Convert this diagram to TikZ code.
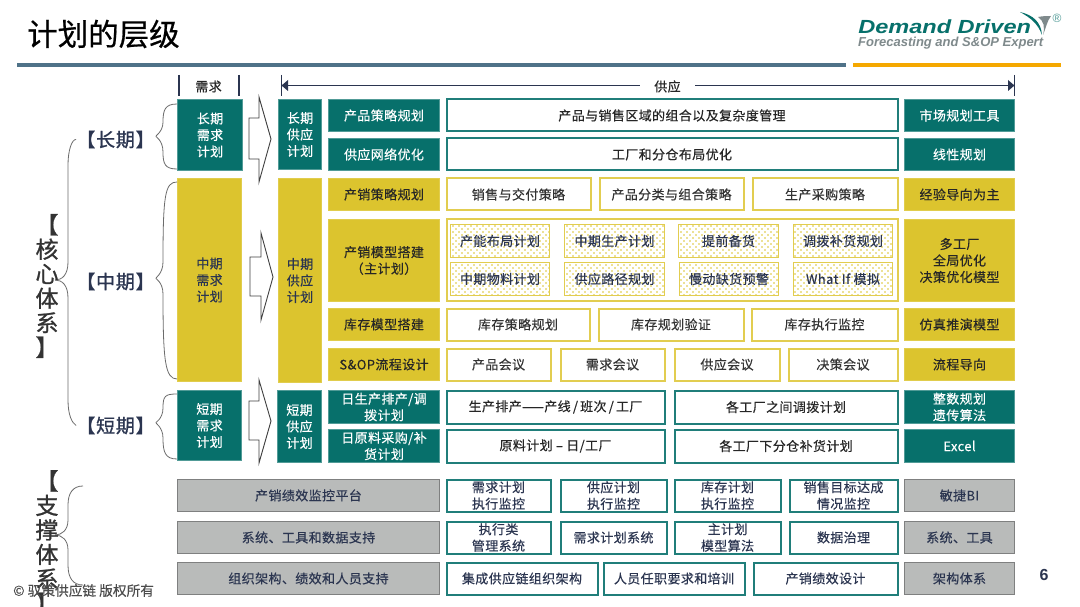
\documentclass[tikz,border=0pt]{standalone}
\usepackage{fontspec}
\usetikzlibrary{patterns}
\setmainfont{Noto Sans CJK SC}
\newfontfamily\cjkb[LetterSpace=3,FakeBold=0.35]{Noto Sans CJK SC}
\newfontfamily\cjkplain[FakeBold=0.25]{Noto Sans CJK SC}
\newfontfamily\cjkhead[LetterSpace=4,FakeBold=0.9]{Noto Sans CJK SC}
\newfontfamily\cjkstack[FakeBold=1.0]{Noto Sans CJK SC}
\newfontfamily\cjktitle[FakeBold=0.6]{Noto Sans CJK SC}
\newfontfamily\logofont{Liberation Sans}
\definecolor{tealbox}{HTML}{07706B}
\definecolor{yel}{HTML}{DCC42E}
\definecolor{yelline}{HTML}{E2CD50}
\definecolor{dotyel}{HTML}{DCC42E}
\definecolor{grayfill}{HTML}{B9BBBA}
\definecolor{grayline}{HTML}{7F8080}
\definecolor{navy}{HTML}{2B3550}
\definecolor{rulebl}{HTML}{4F7288}
\definecolor{ruleor}{HTML}{F5A800}
\definecolor{logog}{HTML}{7F8A8C}
\pgfdeclarepatternformonly{stagdots}{\pgfqpoint{-1pt}{-1pt}}{\pgfqpoint{5.5pt}{5.5pt}}{\pgfqpoint{6pt}{6pt}}{%
 \pgfpathcircle{\pgfqpoint{0pt}{0pt}}{0.85pt}\pgfpathcircle{\pgfqpoint{3pt}{3pt}}{0.85pt}\pgfusepath{fill}}
\tikzset{
 x=1pt,y=-1pt,
 base/.style={anchor=north west,inner sep=0pt,outer sep=0pt,align=center,font=\cjkb\fontsize{13}{16.5}\selectfont,line width=1pt},
 tealfill/.style={base,fill=tealbox,draw=tealbox!70!white,text=white},
 yelfill/.style={base,fill=yel,draw=yel!85!white,text=black!85},
 yelnavy/.style={base,fill=yel,draw=yel!85!white,text=navy},
 tealout/.style={base,draw=tealbox!90!white,line width=2pt,fill=white,text=black!85},
 yelout/.style={base,draw=yelline,line width=2pt,fill=white,text=black!80},
 dotbox/.style={base,draw=yelline,line width=1.2pt,pattern=stagdots,pattern color=dotyel,text=navy},
 graybox/.style={base,fill=grayfill,draw=grayline,line width=1.2pt,text=navy},
 tealoutg/.style={tealout,text=navy},
 bracev/.style={draw=gray!85!black,line width=.8pt},
 hdr/.style={draw=navy,line width=1.1pt},
 blockarrow/.style={draw=black!75,line width=.9pt,fill=white},
 period/.style={inner sep=0pt,text=navy,font=\cjkhead\fontsize{19}{22}\selectfont},
 stack/.style={inner sep=0pt,text=black!80,align=center,font=\cjkstack\fontsize{23}{24.5}\selectfont},
}
\newcommand{\bx}[7][]{\node[#2,minimum width=#4-1pt,minimum height=#5-1pt,#1] (#3) at ([shift={(.5,.5)}]#6,#7)}
\begin{document}
\begin{tikzpicture}
\useasboundingbox (0,0) rectangle (1080,607);
\fill[white] (0,0) rectangle (1080,607);
% title and rules
\node[anchor=west,inner sep=0pt,font=\cjktitle\fontsize{30.5}{34}\selectfont,text=black] (title) at (27,34) {计划的层级};
\fill[rulebl] (17,63) rectangle (846,67);
\fill[ruleor] (853,63) rectangle (1061,67);
% logo
\node[anchor=west,inner sep=0pt,xscale=1.24,font=\logofont\bfseries\itshape\fontsize{19}{20}\selectfont,text=tealbox] (logo1) at (858,26.5) {Demand Driven};
\node[anchor=west,inner sep=0pt,font=\logofont\bfseries\itshape\fontsize{13}{14}\selectfont,text=logog] (logo2) at (858,43) {Forecasting and S\&OP Expert};
\fill[tealbox] (1020,12) .. controls (1033,15) and (1041,22) .. (1042,35) .. controls (1038,24) and (1031,18) .. (1020,12);
\fill[logog] (1038,17) .. controls (1043,16) and (1047,16) .. (1051,16) .. controls (1047,21) and (1046,28) .. (1043,35) .. controls (1045,27) and (1044,21) .. (1038,17);
\node[inner sep=0pt,font=\logofont\fontsize{12}{12}\selectfont,text=tealbox!70!white] (logor) at (1057,18) {®};
% headers
\node[inner sep=0pt,font=\cjkb\fontsize{13}{16}\selectfont,text=black!85] (hdem) at (208.5,86.5) {需求};
\node[inner sep=0pt,font=\cjkb\fontsize{13}{16}\selectfont,text=black!85] (hsup) at (667.5,86.5) {供应};
\coordinate (ta) at (179,75); \coordinate (tb) at (179,96);
\coordinate (tc) at (239,75); \coordinate (td) at (239,96);
\coordinate (te) at (281.5,75); \coordinate (tf) at (281.5,96);
\coordinate (tg) at (1014.5,75); \coordinate (th) at (1014.5,96);
\coordinate (la) at (281.5,85.5); \coordinate (lb) at (1014.5,85.5);
\coordinate (lc) at (640,85.5); \coordinate (ld) at (695,85.5);
\draw[hdr] (ta)--(tb); \draw[hdr] (tc)--(td); \draw[hdr] (te)--(tf); \draw[hdr] (tg)--(th);
\draw[hdr] (la)--(lc);
\draw[hdr] (ld)--(lb);
\fill[navy] (la)--(288,80)--(288,91)--cycle;
\fill[navy] (lb)--(1008,80)--(1008,91)--cycle;
% demand and supply columns
\bx{tealfill}{d1}{66}{72}{177}{99}{长期\\需求\\计划};
\bx{yelnavy}{d2}{65}{204}{177}{178}{中期\\需求\\计划};
\bx{tealfill}{d3}{65}{71}{177}{390}{短期\\需求\\计划};
\bx{tealfill}{s1}{44}{71}{278}{99}{长期\\供应\\计划};
\bx{yelnavy}{s2}{44}{205}{278}{178}{中期\\供应\\计划};
\bx{tealfill}{s3}{45}{73}{277}{390}{短期\\供应\\计划};
% block arrows
\draw[blockarrow] (249,118)--(259,118)--(259,97)--(271,139)--(259,182)--(259,159)--(249,159)--cycle;
\draw[blockarrow] (250,257)--(261,257)--(261,233)--(273,277)--(261,320)--(261,296)--(250,296)--cycle;
\draw[blockarrow] (249,401)--(259,401)--(259,380)--(271,421)--(259,463)--(259,440)--(249,440)--cycle;
% row labels
\bx{tealfill}{r1}{112}{33}{328}{99}{产品策略规划};
\bx{tealfill}{r2}{112}{33}{328}{138}{供应网络优化};
\bx{yelfill}{r3}{112}{33}{328}{178}{产销策略规划};
\bx{yelfill}{r4}{112}{83}{328}{219}{产销模型搭建\\（主计划）};
\bx{yelfill}{r5}{112}{33}{328}{308}{库存模型搭建};
\bx{yelfill}{r6}{112}{33}{328}{348}{S\&OP流程设计};
\bx{tealfill}{r7}{112}{34}{328}{390}{日生产排产/调\\拨计划};
\bx{tealfill}{r8}{112}{34}{328}{429}{日原料采购/补\\货计划};
% middle
\bx{tealout}{m1}{452}{33}{446}{99}{产品与销售区域的组合以及复杂度管理};
\bx{tealout}{m2}{452}{33}{446}{138}{工厂和分仓布局优化};
\bx{yelout}{m31}{145}{33}{446}{178}{销售与交付策略};
\bx{yelout}{m32}{145}{33}{599}{178}{产品分类与组合策略};
\bx{yelout}{m33}{146}{33}{752}{178}{生产采购策略};
\bx{yelout}{m4}{452}{82}{446}{219}{};
\bx{dotbox}{q1}{100}{34}{450}{224}{产能布局计划};
\bx{dotbox}{q2}{101}{34}{564}{224}{中期生产计划};
\bx{dotbox}{q3}{101}{34}{678}{224}{提前备货};
\bx{dotbox}{q4}{100}{34}{793}{224}{调拨补货规划};
\bx{dotbox}{q5}{100}{34}{450}{262}{中期物料计划};
\bx{dotbox}{q6}{101}{34}{564}{262}{供应路径规划};
\bx{dotbox}{q7}{100}{34}{679}{262}{慢动缺货预警};
\bx{dotbox}{q8}{100}{34}{793}{262}{What If 模拟};
\bx{yelout}{m51}{144}{33}{446}{308}{库存策略规划};
\bx{yelout}{m52}{146}{33}{598}{308}{库存规划验证};
\bx{yelout}{m53}{147}{33}{751}{308}{库存执行监控};
\bx{yelout}{m61}{105}{33}{446}{348}{产品会议};
\bx{yelout}{m62}{105}{33}{560}{348}{需求会议};
\bx{yelout}{m63}{106}{33}{674}{348}{供应会议};
\bx{yelout}{m64}{110}{33}{788}{348}{决策会议};
\bx{tealout}{m71}{219}{34}{446}{390}{生产排产——产线\,/\,班次\,/\,工厂};
\bx{tealout}{m72}{224}{34}{674}{390}{各工厂之间调拨计划};
\bx{tealout}{m81}{219}{34}{446}{429}{原料计划 – 日/工厂};
\bx{tealout}{m82}{224}{34}{674}{429}{各工厂下分仓补货计划};
% right column
\bx{tealfill}{e1}{111}{33}{904}{99}{市场规划工具};
\bx{tealfill}{e2}{111}{33}{904}{138}{线性规划};
\bx{yelfill}{e3}{111}{33}{904}{178}{经验导向为主};
\bx{yelfill}{e4}{111}{83}{904}{219}{多工厂\\全局优化\\决策优化模型};
\bx{yelfill}{e5}{111}{33}{904}{308}{仿真推演模型};
\bx{yelfill}{e6}{111}{33}{904}{348}{流程导向};
\bx{tealfill}{e7}{111}{34}{904}{390}{整数规划\\遗传算法};
\bx{tealfill}{e8}{111}{34}{904}{429}{Excel};
% support
\bx{graybox}{g1}{263}{33}{177}{479}{产销绩效监控平台};
\bx{graybox}{g2}{263}{33}{177}{521}{系统、工具和数据支持};
\bx{graybox}{g3}{263}{33}{177}{562}{组织架构、绩效和人员支持};
\bx{tealoutg}{t11}{105}{33}{446}{479}{需求计划\\执行监控};
\bx{tealoutg}{t12}{107}{33}{560}{479}{供应计划\\执行监控};
\bx{tealoutg}{t13}{107}{33}{674}{479}{库存计划\\执行监控};
\bx{tealoutg}{t14}{109}{33}{789}{479}{销售目标达成\\情况监控};
\bx{tealoutg}{t21}{105}{33}{446}{521}{执行类\\管理系统};
\bx{tealoutg}{t22}{107}{33}{560}{521}{需求计划系统};
\bx{tealoutg}{t23}{107}{33}{674}{521}{主计划\\模型算法};
\bx{tealoutg}{t24}{109}{33}{789}{521}{数据治理};
\bx{tealoutg}{t31}{152}{33}{446}{562}{集成供应链组织架构};
\bx{tealoutg}{t32}{142}{33}{603}{562}{人员任职要求和培训};
\bx{tealoutg}{t33}{145}{33}{753}{562}{产销绩效设计};
\bx{graybox}{h1}{111}{33}{904}{479}{敏捷BI};
\bx{graybox}{h2}{111}{33}{904}{521}{系统、工具};
\bx{graybox}{h3}{111}{33}{904}{562}{架构体系};
% period labels
\node[period] (pl) at (115.5,139.5) {【长期】};
\node[period] (pm) at (115.5,281.5) {【中期】};
\node[period] (ps) at (115.5,425.5) {【短期】};
% braces
\draw[bracev] (pl.east) ++(1,-3) coordinate (b1) .. controls (155,136) and (163,132) .. (163,122) .. controls (163,110) and (165,104) .. (177,104);
\draw[bracev] (b1) .. controls (155,136) and (163,140) .. (163,152) .. controls (163,164) and (165,169) .. (177,169);
\draw[bracev] (pm.east) ++(1,-3) coordinate (b2) .. controls (155,278) and (163,274) .. (163,262) .. controls (163,195) and (165,182) .. (177,182);
\draw[bracev] (b2) .. controls (155,278) and (163,282) .. (163,294) .. controls (163,360) and (165,379) .. (177,379);
\draw[bracev] (ps.east) ++(1,-3) coordinate (b3) .. controls (155,423) and (163,419) .. (163,408) .. controls (163,396) and (165,394) .. (177,394);
\draw[bracev] (b3) .. controls (155,423) and (163,427) .. (163,438) .. controls (163,452) and (165,459) .. (177,459);
\coordinate (b4) at (55,280);
\coordinate (b5) at (55,535);
\draw[bracev] (b4) .. controls (62,280) and (68,275) .. (68,262) -- (68,165) .. controls (68,150) and (72,139) .. (pl.west);
\draw[bracev] (b4) .. controls (62,280) and (68,285) .. (68,298) -- (68,400) .. controls (68,415) and (72,423) .. (ps.west);
\coordinate (b6) at (83,486); \coordinate (b7) at (83,585);
\draw[bracev] (b5) .. controls (62,535) and (68,530) .. (68,520) -- (68,505) .. controls (68,493) and (73,486) .. (b6);
\draw[bracev] (b5) .. controls (62,535) and (68,540) .. (68,550) -- (68,565) .. controls (68,578) and (73,585) .. (b7);
% vertical stacks
\node[stack] (core) at (47,286) {【\\核\\心\\体\\系\\】};
\begin{scope}
\clip (0,0) rectangle (1080,607);
\node[stack,anchor=north] (supp) at (47,470) {【\\支\\撑\\体\\系\\】};
\end{scope}
% footer
\node[anchor=west,inner sep=0pt,font=\cjkplain\fontsize{13.7}{15}\selectfont,text=black!70] (copy) at (13,590.5) {© 驭策供应链 版权所有};
\node[inner sep=0pt,font=\logofont\bfseries\fontsize{16}{17}\selectfont,text=navy] (pg) at (1044,575) {6};
\end{tikzpicture}
\end{document}
